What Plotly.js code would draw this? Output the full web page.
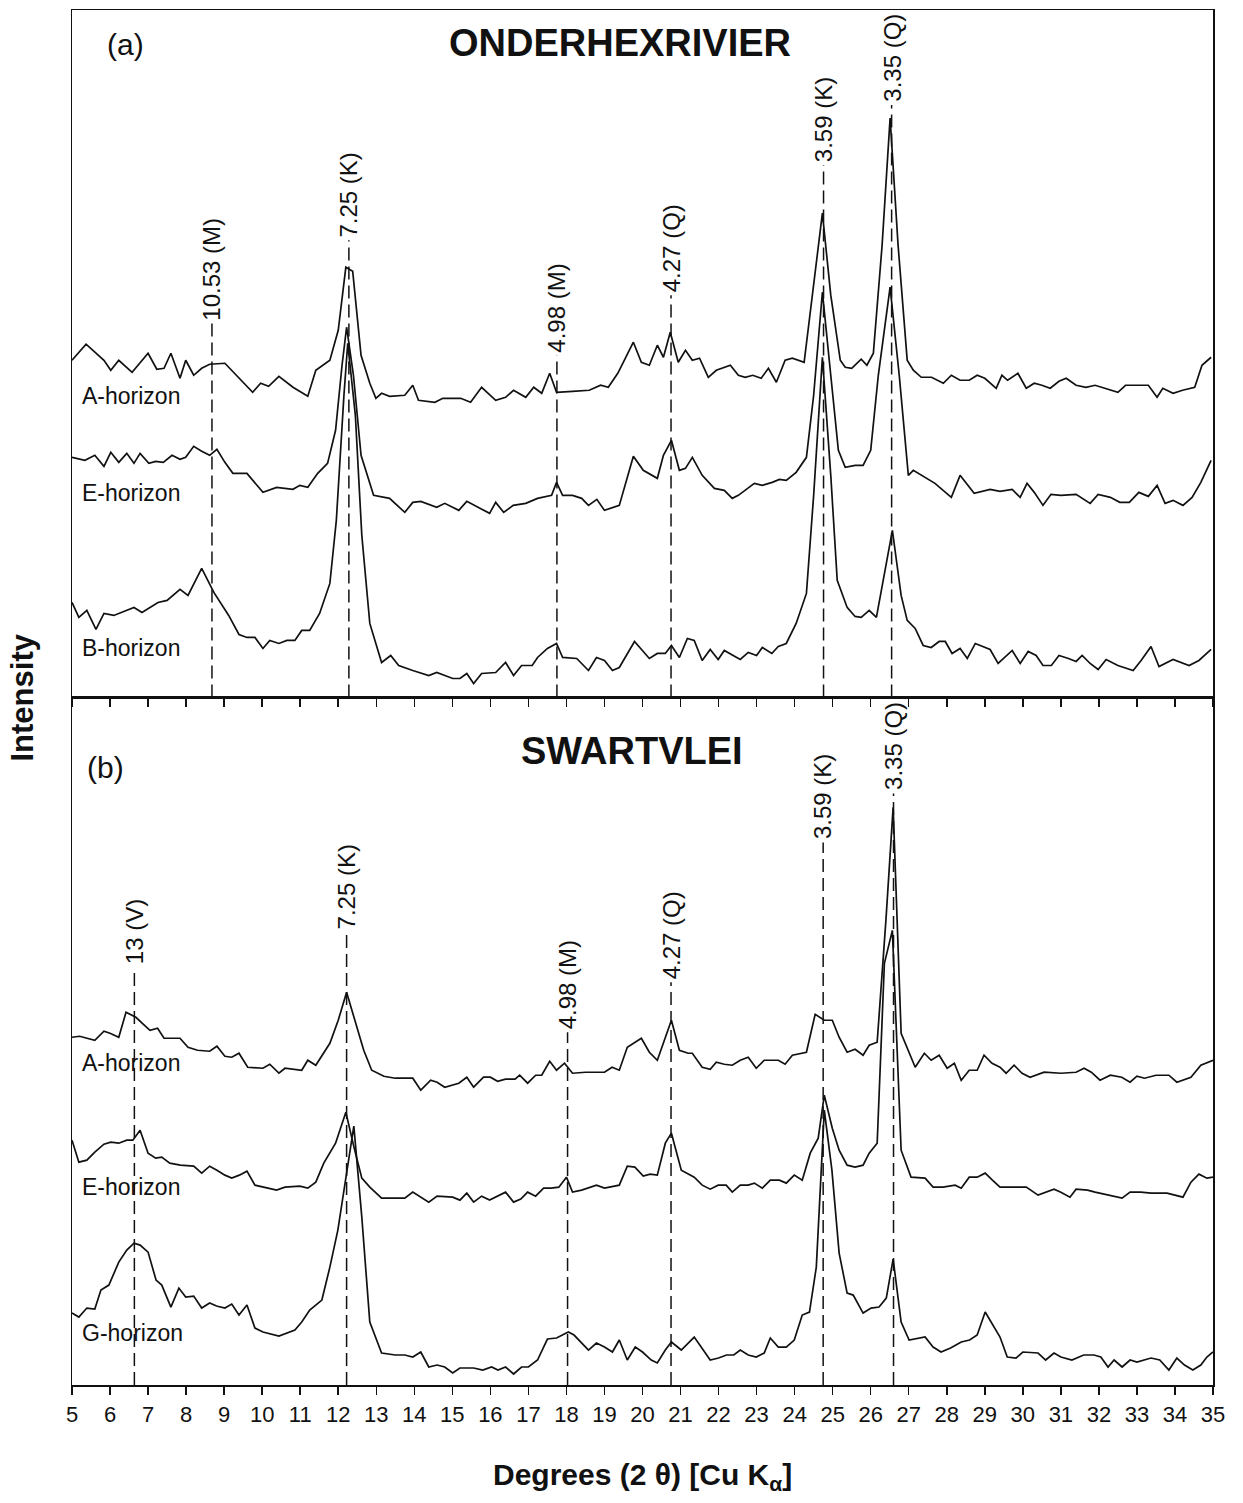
<!DOCTYPE html>
<html>
<head>
<meta charset="utf-8">
<script src="https://cdn.plot.ly/plotly-3.0.1.min.js"></script>
<style>html,body{margin:0;padding:0;background:#fff;}#chart{width:1243px;height:1503px;}</style>
</head>
<body>
<div id="chart"></div>
<script>
// ---- Panel (a) ONDERHEXRIVIER : 2-theta (deg) and intensity (arbitrary, offset stacked) ----
var aA_x = [5.0,5.37,5.84,6.02,6.23,6.58,7.0,7.23,7.42,7.6,7.84,7.99,8.2,8.41,8.62,9.02,9.75,9.96,10.17,10.44,10.81,11.2,11.41,11.78,12.0,12.2,12.38,12.6,12.83,12.99,13.14,13.35,13.75,13.96,14.11,14.54,14.75,15.22,15.48,15.77,16.14,16.4,16.61,16.93,17.14,17.35,17.56,17.74,18.16,18.6,18.9,19.1,19.35,19.76,19.97,20.18,20.39,20.55,20.73,20.94,21.13,21.31,21.5,21.73,21.94,22.1,22.31,22.52,22.7,22.9,23.12,23.31,23.52,23.75,23.94,24.25,24.5,24.73,24.95,25.2,25.33,25.5,25.75,25.9,26.07,26.3,26.51,26.72,26.96,27.12,27.33,27.6,27.91,28.12,28.35,28.59,28.8,29.0,29.3,29.45,29.6,29.87,30.09,30.3,30.5,30.72,30.95,31.14,31.4,31.66,31.9,32.29,32.5,32.7,32.95,33.3,33.53,33.68,33.95,34.2,34.52,34.71,34.95];
var aA_y = [335,351,335,325,335,323,342,326,327,342,317,335,320,327,331,332,303,312,309,319,308,299,325,335,365,428,424,340,312,297,302,299,300,310,295,293,297,297,293,308,295,298,305,298,308,302,322,303,304,305,310,308,322,353,333,330,350,338,363,333,345,335,337,318,325,327,330,320,318,320,317,327,313,335,337,333,410,482,400,335,328,327,336,330,342,450,577,450,335,325,318,318,312,320,315,315,320,317,307,320,315,322,307,312,310,307,314,317,310,308,310,305,303,310,310,310,298,307,302,305,308,330,338];

var aE_x = [5.0,5.34,5.6,5.84,6.02,6.23,6.44,6.63,6.79,7.02,7.2,7.4,7.63,7.84,7.99,8.2,8.41,8.62,8.81,9.02,9.23,9.6,10.02,10.38,10.81,10.99,11.2,11.46,11.72,11.93,12.1,12.22,12.4,12.6,12.93,13.35,13.75,13.96,14.17,14.59,14.8,15.17,15.38,15.98,16.14,16.35,16.6,16.93,17.24,17.61,17.74,17.9,18.16,18.4,18.58,18.8,19.0,19.21,19.39,19.76,20.02,20.39,20.55,20.76,20.97,21.13,21.31,21.57,21.89,22.15,22.36,22.52,22.94,23.15,23.41,23.6,23.78,24.04,24.31,24.5,24.73,24.95,25.15,25.33,25.59,25.8,26.0,26.2,26.51,26.75,26.99,27.12,27.33,27.69,28.12,28.35,28.72,29.14,29.4,29.72,29.93,30.11,30.3,30.53,30.74,31.0,31.4,31.77,31.98,32.3,32.55,32.8,33.05,33.3,33.53,33.74,33.95,34.21,34.45,34.68,34.95];
var aE_y = [238,235,240,229,243,233,242,232,242,232,234,233,240,236,238,249,244,240,246,233,222,222,203,208,206,210,208,222,232,265,330,368,320,240,200,197,183,193,194,188,192,185,194,182,193,183,190,192,197,200,213,200,200,197,190,196,185,188,190,239,225,217,240,255,225,227,238,220,207,205,197,200,212,210,213,216,215,223,238,300,403,320,245,228,230,230,245,320,408,320,220,225,220,212,198,220,202,206,204,206,198,212,203,190,201,200,201,192,201,198,193,193,203,199,210,192,195,190,198,213,235];

var aB_x = [5.0,5.18,5.39,5.63,5.84,6.1,6.63,6.84,7.26,7.5,7.84,8.05,8.41,8.73,9.12,9.39,9.6,9.81,10.02,10.2,10.44,10.65,10.86,11.04,11.25,11.51,11.78,11.95,12.15,12.25,12.45,12.62,12.83,13.14,13.38,13.59,13.96,14.38,14.59,15.01,15.2,15.38,15.56,15.77,16.14,16.4,16.61,16.82,17.1,17.24,17.5,17.74,17.9,18.27,18.58,18.79,19.0,19.21,19.39,19.79,20.18,20.39,20.6,20.76,20.97,21.18,21.36,21.57,21.78,21.99,22.15,22.57,22.78,23.0,23.15,23.4,23.57,23.78,24.04,24.31,24.5,24.73,24.95,25.12,25.38,25.59,25.75,25.96,26.15,26.35,26.57,26.8,26.96,27.17,27.38,27.59,27.8,27.96,28.14,28.35,28.54,28.75,29.14,29.35,29.72,29.93,30.14,30.35,30.53,30.75,30.95,31.2,31.4,31.56,31.77,31.98,32.19,32.5,32.9,33.11,33.37,33.58,33.95,34.37,34.63,34.95];
var aB_y = [93,78,85,66,82,80,88,83,93,95,106,100,127,103,80,61,58,58,47,55,52,55,55,65,65,82,112,175,300,352,280,160,72,33,40,30,25,20,23,17,17,22,12,22,23,33,20,30,30,38,47,52,38,37,25,38,35,25,28,54,37,42,42,50,38,57,55,35,46,36,45,36,43,40,48,42,49,52,72,102,200,338,220,115,88,79,78,85,78,120,165,100,75,67,50,48,54,54,42,47,37,52,46,32,45,32,44,40,30,30,40,37,34,40,32,26,36,30,25,35,49,29,36,30,35,46];

// ---- Panel (b) SWARTVLEI ----
var bA_x = [5.0,5.2,5.6,5.84,6.0,6.23,6.42,6.68,6.85,7.05,7.25,7.42,7.84,8.05,8.3,8.62,8.81,9.02,9.2,9.39,9.62,10.02,10.2,10.44,10.6,10.81,11.04,11.2,11.41,11.78,12.0,12.22,12.46,12.67,12.88,13.2,13.5,13.96,14.17,14.43,14.6,14.8,15.17,15.38,15.56,15.82,16.0,16.19,16.4,16.65,16.77,16.98,17.19,17.35,17.56,17.74,17.95,18.16,18.5,19.0,19.2,19.39,19.6,19.97,20.18,20.39,20.76,20.97,21.2,21.31,21.57,21.78,21.94,22.15,22.36,22.57,22.78,22.99,23.2,23.57,23.75,23.94,24.31,24.54,24.78,24.99,25.17,25.38,25.59,25.8,25.96,26.17,26.4,26.59,26.8,27.17,27.41,27.59,27.8,28.01,28.2,28.38,28.59,28.8,28.98,29.19,29.4,29.56,29.77,29.98,30.19,30.56,31.0,31.4,31.61,31.8,32.03,32.3,32.6,32.82,33.0,33.2,33.5,33.84,34.05,34.42,34.68,35.0];
var bA_y = [343,344,340,349,347,343,368,363,357,350,352,342,342,333,330,329,334,324,323,327,313,312,316,307,312,311,310,320,315,337,360,388,357,330,310,304,302,302,290,300,298,293,297,303,293,303,303,299,301,301,305,297,305,305,319,310,317,307,308,308,313,310,333,342,328,320,360,330,327,327,313,311,318,316,315,320,323,312,320,320,316,325,328,366,360,360,343,328,331,325,335,338,460,573,347,313,327,320,325,312,317,300,310,310,325,317,313,307,315,307,303,308,307,308,312,308,300,305,303,298,304,302,305,305,298,303,315,320];

var bE_x = [5.0,5.18,5.39,5.6,5.84,6.02,6.23,6.44,6.6,6.79,7.0,7.2,7.36,7.57,7.85,8.2,8.41,8.62,8.81,9.02,9.2,9.4,9.6,9.81,10.38,10.6,10.99,11.2,11.41,11.62,11.93,12.2,12.42,12.62,12.83,13.14,13.5,13.75,13.96,14.17,14.38,14.6,15.01,15.2,15.38,15.56,15.77,15.98,16.2,16.4,16.61,16.8,16.98,17.19,17.4,17.6,17.8,18.0,18.16,18.4,18.79,19.0,19.39,19.6,19.8,20.02,20.2,20.39,20.6,20.76,21.02,21.2,21.36,21.57,21.78,21.99,22.2,22.36,22.57,22.78,22.94,23.15,23.36,23.6,23.78,23.99,24.2,24.41,24.62,24.78,24.99,25.17,25.38,25.59,25.8,25.96,26.17,26.36,26.57,26.8,27.06,27.43,27.64,27.9,28.22,28.38,28.59,28.8,29.01,29.2,29.4,29.8,30.09,30.4,30.6,30.82,31.0,31.24,31.4,31.7,31.9,32.29,32.61,32.82,33.1,33.37,33.79,34.21,34.42,34.63,34.84,35.0];
var bE_y = [240,218,220,228,236,238,237,240,240,250,227,222,223,217,215,214,207,214,210,205,202,205,209,195,190,193,194,192,198,217,237,268,232,202,193,182,182,182,188,183,178,184,183,180,187,178,184,180,184,188,178,181,188,184,192,192,193,203,188,190,195,192,195,214,213,204,206,205,237,247,210,206,203,195,191,195,195,188,195,195,197,192,200,200,197,205,200,227,242,285,252,230,215,213,215,227,237,417,450,230,203,202,193,193,195,192,203,203,207,200,193,193,193,185,188,191,188,183,191,190,188,185,182,188,188,187,187,183,198,206,202,203];

var bG_x = [5.0,5.18,5.39,5.6,5.76,5.97,6.23,6.44,6.63,6.79,7.0,7.21,7.36,7.6,7.81,7.99,8.2,8.41,8.62,8.8,9.02,9.2,9.39,9.6,9.81,10.02,10.44,10.86,11.04,11.25,11.57,11.78,11.99,12.41,12.62,12.83,13.14,13.5,13.75,13.96,14.17,14.38,14.6,14.8,15.01,15.2,15.56,15.8,16.03,16.2,16.4,16.61,16.82,17.0,17.24,17.5,17.74,18.05,18.2,18.37,18.58,18.79,19.0,19.21,19.39,19.6,19.81,20.0,20.23,20.39,20.6,20.76,21.02,21.36,21.57,21.78,22.0,22.21,22.4,22.57,22.78,22.99,23.2,23.36,23.57,23.78,23.99,24.2,24.39,24.57,24.78,24.98,25.17,25.38,25.54,25.8,26.01,26.22,26.41,26.59,26.8,27.01,27.43,27.64,27.85,28.1,28.38,28.6,28.8,29.01,29.4,29.59,29.82,30.0,30.4,30.6,30.82,31.0,31.29,31.6,31.87,32.05,32.24,32.4,32.61,32.82,33.0,33.2,33.37,33.6,33.84,34.05,34.25,34.47,34.68,34.84,35.0];
var bG_y = [67,63,72,71,90,95,118,130,137,135,128,100,95,73,92,83,84,72,77,74,72,76,65,75,52,48,44,50,58,70,80,113,150,254,163,58,27,25,25,23,28,13,15,13,7,12,12,10,13,10,13,6,13,13,20,41,42,48,45,38,30,37,33,28,40,20,33,28,20,17,30,38,30,43,32,20,22,25,25,30,25,23,27,42,33,33,40,65,68,113,270,210,127,87,85,67,72,73,82,121,58,40,43,33,28,32,38,40,45,68,43,23,22,28,27,20,27,23,20,25,25,23,13,20,13,20,18,20,22,20,10,22,15,10,15,23,28];

// ---- Reference lines (d-spacings, Angstrom) ----
var aLine_x = [8.68,12.28,17.75,20.75,24.76,26.55];
var aLine_top = [372,455,340,400,530,590];
var aLine_lbl = ['10.53 (M)','7.25 (K)','4.98 (M)','4.27 (Q)','3.59 (K)','3.35 (Q)'];
var bLine_x = [6.64,12.22,18.03,20.75,24.75,26.6];
var bLine_top = [413,448,348,398,538,587];
var bLine_lbl = ['13 (V)','7.25 (K)','4.98 (M)','4.27 (Q)','3.59 (K)','3.35 (Q)'];

var aHor_lbl = ['A-horizon','E-horizon','B-horizon'];
var aHor_y = [299,202,47];
var bHor_lbl = ['A-horizon','E-horizon','G-horizon'];
var bHor_y = [317,193,47];

var xTicks = [];
for (var t = 5; t <= 35; t++) xTicks.push(t);

var lineStyle = {color:'#111', width:1.7};
var traces = [
  {x:aA_x, y:aA_y, xaxis:'x2', yaxis:'y2'},
  {x:aE_x, y:aE_y, xaxis:'x2', yaxis:'y2'},
  {x:aB_x, y:aB_y, xaxis:'x2', yaxis:'y2'},
  {x:bA_x, y:bA_y, xaxis:'x', yaxis:'y'},
  {x:bE_x, y:bE_y, xaxis:'x', yaxis:'y'},
  {x:bG_x, y:bG_y, xaxis:'x', yaxis:'y'}
].map(function(tr){
  tr.type='scatter'; tr.mode='lines'; tr.line=lineStyle; tr.hoverinfo='skip'; tr.showlegend=false; return tr;
});

var shapes = [];
var annotations = [];
var FONT = 'Arial, Liberation Sans, sans-serif';

function addLines(xs, tops, lbls, xr, yr, ybottom){
  for (var i=0;i<xs.length;i++){
    shapes.push({type:'line', xref:xr, yref:yr, x0:xs[i], x1:xs[i], y0:ybottom, y1:tops[i],
      line:{color:'#111', width:1.5, dash:'13px,6px'}});
    annotations.push({xref:xr, yref:yr, x:xs[i], y:tops[i], text:lbls[i], showarrow:false,
      textangle:-90, xanchor:'center', yanchor:'bottom', yshift:1,
      font:{family:FONT, size:24, color:'#111'}});
  }
}
addLines(aLine_x, aLine_top, aLine_lbl, 'x2', 'y2', -2);
addLines(bLine_x, bLine_top, bLine_lbl, 'x', 'y', -5);

function addHor(lbls, ys, xr, yr){
  for (var i=0;i<lbls.length;i++){
    annotations.push({xref:xr, yref:yr, x:5.2, y:ys[i], text:lbls[i], showarrow:false,
      xanchor:'left', yanchor:'middle', font:{family:FONT, size:23, color:'#111'}});
  }
}
addHor(aHor_lbl, aHor_y, 'x2', 'y2');
addHor(bHor_lbl, bHor_y, 'x', 'y');

annotations.push({xref:'paper', yref:'paper', x:0.48, y:0.976, text:'<b>ONDERHEXRIVIER</b>', showarrow:false,
  xanchor:'center', yanchor:'middle', font:{family:FONT, size:38, color:'#111'}});
annotations.push({xref:'paper', yref:'paper', x:0.491, y:0.461, text:'<b>SWARTVLEI</b>', showarrow:false,
  xanchor:'center', yanchor:'middle', font:{family:FONT, size:38, color:'#111'}});
annotations.push({xref:'paper', yref:'paper', x:0.029, y:0.975, text:'(a)', showarrow:false,
  xanchor:'left', yanchor:'middle', font:{family:FONT, size:30, color:'#111'}});
annotations.push({xref:'paper', yref:'paper', x:0.011, y:0.449, text:'(b)', showarrow:false,
  xanchor:'left', yanchor:'middle', font:{family:FONT, size:30, color:'#111'}});
annotations.push({xref:'paper', yref:'paper', x:0, y:0.5, xshift:-50, text:'<b>Intensity</b>', showarrow:false,
  textangle:-90, xanchor:'center', yanchor:'middle', font:{family:FONT, size:31, color:'#111'}});
annotations.push({xref:'paper', yref:'paper', x:0.5, y:0, yshift:-91, text:'<b>Degrees (2 \u03b8) [Cu K<sub>\u03b1</sub>]</b>', showarrow:false,
  xanchor:'center', yanchor:'middle', font:{family:FONT, size:30, color:'#111'}});

var xBase = {range:[5,35], tickvals:xTicks, ticktext:xTicks.map(String), ticks:'outside', ticklen:8, tickwidth:1.5, tickcolor:'#111',
  showline:true, linecolor:'#111', linewidth:1.5, mirror:true, showgrid:false, zeroline:false, fixedrange:true};
var yBase = {showline:true, linecolor:'#111', linewidth:1.5, mirror:true, showgrid:false, zeroline:false,
  showticklabels:false, ticks:'', fixedrange:true};

var layout = {
  width:1243, height:1503,
  margin:{l:72, r:30, t:10, b:118},
  paper_bgcolor:'#fff', plot_bgcolor:'#fff',
  showlegend:false,
  xaxis: Object.assign({}, xBase, {anchor:'y', tickfont:{family:FONT, size:22, color:'#111'}, ticklabelstandoff:1}),
  yaxis: Object.assign({}, yBase, {domain:[0,0.5], range:[-5,683], anchor:'x'}),
  xaxis2: Object.assign({}, xBase, {anchor:'y2', showticklabels:false}),
  yaxis2: Object.assign({}, yBase, {domain:[0.5,1], range:[-2,685], anchor:'x2'}),
  shapes:shapes,
  annotations:annotations
};

Plotly.newPlot('chart', traces, layout, {staticPlot:true, displayModeBar:false});
</script>
</body>
</html>
